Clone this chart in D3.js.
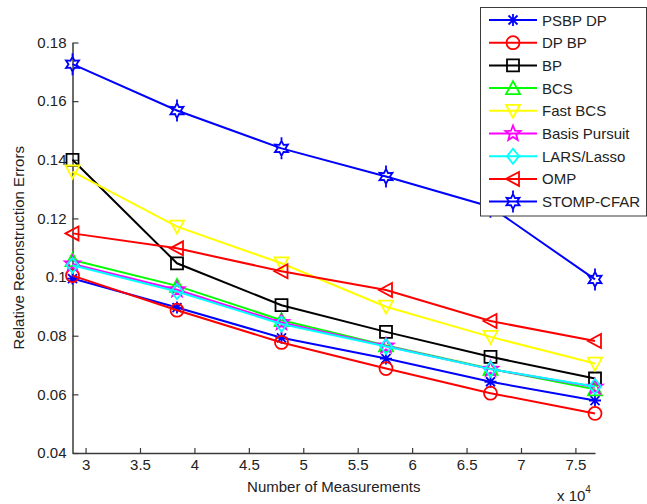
<!DOCTYPE html>
<html>
<head>
<meta charset="utf-8">
<script src="https://cdn.jsdelivr.net/npm/d3@7"></script>
<style>
  body { margin: 0; background: #fff; }
  text { font-family: "Liberation Sans", Arial, sans-serif; fill: #222; }
</style>
</head>
<body>
<div id="chart"></div>
<script>
// measurements, x 10^4
const xValues = [2.88, 3.84, 4.80, 5.76, 6.72, 7.68];

const psbpDp = [0.0995, 0.0896, 0.0793, 0.0722, 0.0643, 0.0579];
const dpBp = [0.1005, 0.0887, 0.0777, 0.0688, 0.0604, 0.0535];
const bp = [0.1400, 0.1047, 0.0904, 0.0813, 0.0728, 0.0654];
const bcs = [0.1058, 0.0970, 0.0853, 0.0767, 0.0687, 0.0617];
const fastBcs = [0.1360, 0.1172, 0.1047, 0.0899, 0.0796, 0.0705];
const basisPursuit = [0.1045, 0.0957, 0.0845, 0.0765, 0.0686, 0.0625];
const larsLasso = [0.1040, 0.0951, 0.0840, 0.0763, 0.0686, 0.0627];
const omp = [0.1149, 0.1098, 0.1020, 0.0956, 0.0850, 0.0782];
const stompCfar = [0.1726, 0.1568, 0.1439, 0.1343, 0.1240, 0.0992];

const seriesNames = ["PSBP DP", "DP BP", "BP", "BCS", "Fast BCS", "Basis Pursuit", "LARS/Lasso", "OMP", "STOMP-CFAR"];
const seriesValues = [psbpDp, dpBp, bp, bcs, fastBcs, basisPursuit, larsLasso, omp, stompCfar];
const seriesColors = ["#0000ff", "#ff0000", "#000000", "#00ff00", "#ffff00", "#ff00ff", "#00ffff", "#ff0000", "#0000ff"];
const seriesMarkers = ["asterisk", "circle", "square", "triUp", "triDown", "pentagram", "diamond", "triLeft", "hexagram"];

const xTicks = [3, 3.5, 4, 4.5, 5, 5.5, 6, 6.5, 7, 7.5];
const xTickLabels = ["3", "3.5", "4", "4.5", "5", "5.5", "6", "6.5", "7", "7.5"];
const yTicks = [0.04, 0.06, 0.08, 0.1, 0.12, 0.14, 0.16, 0.18];
const yTickLabels = ["0.04", "0.06", "0.08", "0.1", "0.12", "0.14", "0.16", "0.18"];

const w = 647;
const h = 504;
const plot = { left: 72.5, right: 595, top: 42.5, bottom: 453 };
const axisColor = "#3a3a3a";

const svg = d3.select("#chart")
    .append("svg")
    .attr("width", w)
    .attr("height", h);

const x = d3.scaleLinear().domain([2.88, 7.68]).range([plot.left, plot.right]);
const y = d3.scaleLinear().domain([0.04, 0.18]).range([plot.bottom, plot.top]);

// marker shapes, matlab style
const starPath = (n, rOut, rIn) => {
    const pts = [];
    for (let i = 0; i < n * 2; i++) {
        const r = i % 2 === 0 ? rOut : rIn;
        const a = -Math.PI / 2 + i * Math.PI / n;
        pts.push([r * Math.cos(a), r * Math.sin(a)]);
    }
    return "M" + pts.map(p => p.join(",")).join("L") + "Z";
};

const markerPath = (type) => {
    switch (type) {
        case "asterisk": {
            const r = 6, d = 4.5;
            return `M${-r},0L${r},0M0,${-r}L0,${r}M${-d},${-d}L${d},${d}M${-d},${d}L${d},${-d}`;
        }
        case "circle":
            return "M6.5,0A6.5,6.5 0 1,1 -6.5,0A6.5,6.5 0 1,1 6.5,0Z";
        case "square":
            return "M-6,-6L6,-6L6,6L-6,6Z";
        case "triUp":
            return "M0,-7L7,6L-7,6Z";
        case "triDown":
            return "M0,7L7,-6L-7,-6Z";
        case "triLeft":
            return "M-7,0L6,-7L6,7Z";
        case "diamond":
            return "M0,-7.5L6,0L0,7.5L-6,0Z";
        case "pentagram":
            return starPath(5, 8, 3.4);
        case "hexagram":
            return starPath(6, 7.5, 4) + "M0,-11L0,-7.5M0,7.5L0,11";
    }
};

// axes
const yAxis = d3.axisLeft(y)
    .tickValues(yTicks)
    .tickFormat((d, i) => yTickLabels[i])
    .tickSizeInner(-6)
    .tickSizeOuter(0)
    .tickPadding(6);

const xAxis = d3.axisBottom(x)
    .tickValues(xTicks)
    .tickFormat((d, i) => xTickLabels[i])
    .tickSizeInner(-5)
    .tickSizeOuter(0)
    .tickPadding(6);

const gy = svg.append("g")
    .attr("transform", `translate(${plot.left},0)`)
    .call(yAxis);

const gx = svg.append("g")
    .attr("transform", `translate(0,${plot.bottom})`)
    .call(xAxis);

[gx, gy].forEach(g => {
    g.select(".domain").attr("stroke", axisColor).attr("stroke-width", 1.5);
    g.selectAll(".tick line").attr("stroke", axisColor).attr("stroke-width", 1.2);
    g.selectAll(".tick text")
        .style("font-family", "'Liberation Sans', Arial, sans-serif")
        .style("font-size", "15px")
        .attr("fill", "#222");
});

// axis labels
svg.append("text")
    .attr("x", (plot.left + plot.right) / 2)
    .attr("y", 492)
    .attr("text-anchor", "middle")
    .style("font-size", "15px")
    .text("Number of Measurements");

svg.append("text")
    .attr("transform", `translate(24,${(plot.top + plot.bottom) / 2}) rotate(-90)`)
    .attr("text-anchor", "middle")
    .style("font-size", "15px")
    .text("Relative Reconstruction Errors");

const mult = svg.append("text")
    .attr("x", 557)
    .attr("y", 501)
    .style("font-size", "15px")
    .text("x 10");
mult.append("tspan")
    .attr("dy", -8)
    .style("font-size", "10px")
    .text("4");

// series
const line = d3.line()
    .x((d, i) => x(xValues[i]))
    .y(d => y(d));

seriesValues.forEach((vals, k) => {
    const g = svg.append("g");
    g.append("path")
        .attr("d", line(vals))
        .attr("fill", "none")
        .attr("stroke", seriesColors[k])
        .attr("stroke-width", 2);

    g.selectAll("path.mk")
        .data(vals)
        .enter()
        .append("path")
        .attr("class", "mk")
        .attr("transform", (d, i) => `translate(${x(xValues[i])},${y(d)})`)
        .attr("d", markerPath(seriesMarkers[k]))
        .attr("fill", "none")
        .attr("stroke", seriesColors[k])
        .attr("stroke-width", 1.8);
});

// legend
const legend = svg.append("g");
legend.append("rect")
    .attr("x", 480.5)
    .attr("y", 7.5)
    .attr("width", 166)
    .attr("height", 208.5)
    .attr("fill", "#fff")
    .attr("stroke", axisColor)
    .attr("stroke-width", 1);

const legendItem = legend.selectAll("g.item")
    .data(seriesNames)
    .enter()
    .append("g")
    .attr("class", "item")
    .attr("transform", (d, i) => `translate(0,${20 + i * 22.7})`);

legendItem.append("line")
    .attr("x1", 489)
    .attr("x2", 537)
    .attr("stroke", (d, i) => seriesColors[i])
    .attr("stroke-width", 2);

legendItem.append("path")
    .attr("transform", "translate(513,0)")
    .attr("d", (d, i) => markerPath(seriesMarkers[i]))
    .attr("fill", "none")
    .attr("stroke", (d, i) => seriesColors[i])
    .attr("stroke-width", 1.8);

legendItem.append("text")
    .attr("x", 542)
    .attr("y", 5.5)
    .style("font-size", "15px")
    .text(d => d);
</script>
</body>
</html>
